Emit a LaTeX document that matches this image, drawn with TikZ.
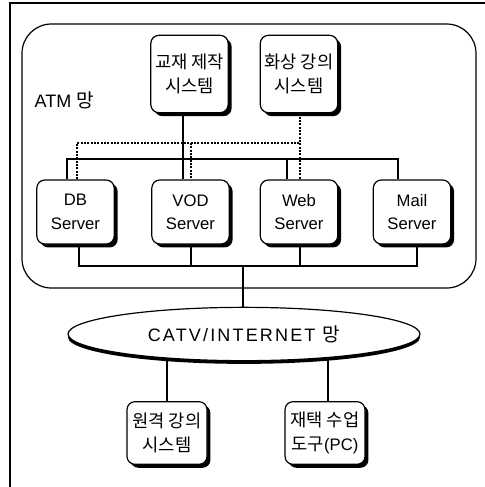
\documentclass[tikz,border=0pt]{standalone}
\usepackage{fontspec}
\setmainfont{Liberation Sans}
\newfontfamily\kr[Scale=1.06]{Noto Sans CJK KR}
\usetikzlibrary{shapes.geometric,shadows,backgrounds}
\begin{document}
\begin{tikzpicture}[x=0.75pt,y=-0.75pt,
  shadowed/.style={drop shadow={shadow xshift=2.6pt,shadow yshift=-2.6pt,opacity=1,fill=black}},
  box/.style={draw,line width=0.9pt,fill=white,rounded corners=6pt,align=center,
    inner sep=1pt,font=\fontsize{12.5pt}{17.5pt}\selectfont,shadowed},
  topbox/.style={box,minimum width=58pt,minimum height=58pt},
  srvbox/.style={box,minimum width=58pt,minimum height=48pt},
  botbox/.style={box,minimum width=60pt,minimum height=47pt},
  link/.style={line width=0.8pt},
  dot/.style={line width=0.8pt,dash pattern=on 1.5pt off 1pt},
  frame/.style={line width=1.1pt}]
\useasboundingbox (0,0) rectangle (485,487);
% outer frame (left and top edges)
\coordinate (fa) at (10,487);
\coordinate (fb) at (10,3);
\coordinate (fc) at (485,3);
\draw[frame] (fa) -- (fb) -- (fc);
% ATM network area
\draw[line width=0.9pt,rounded corners=22pt] (22,24) rectangle (476,288);
\node[anchor=west,font=\fontsize{13.5pt}{15pt}\selectfont] (atm) at (30,100) {ATM {\kr 망}};
% top systems
\node[topbox] (kyo) at (189.5,74) {{\kr 교재 제작}\\{\kr 시스템}};
\node[topbox] (hwa) at (299,74) {{\kr 화상 강의}\\{\kr 시스템}};
% servers
\node[srvbox] (db) at (75.5,212) {DB\\Server};
\node[srvbox] (vod) at (190.5,212) {VOD\\Server};
\node[srvbox] (web) at (299,212) {Web\\Server};
\node[srvbox] (mail) at (412,212) {Mail\\Server};
% network ellipse
\node[draw,ellipse,line width=0.9pt,fill=white,minimum width=264pt,minimum height=40pt,
  font=\fontsize{13.5pt}{15pt}\selectfont\addfontfeature{LetterSpace=12},
  drop shadow={shadow xshift=0pt,shadow yshift=-2.4pt,opacity=1,fill=black}] (net) at (244,334) {CATV/INTERNET {\kr 망}};
% client systems
\node[botbox] (won) at (167,433) {{\kr 원격 강의}\\{\kr 시스템}};
\node[botbox] (jae) at (325,433) {{\kr 재택 수업}\\{\kr 도구}(PC)};
% coordinates of routing
\coordinate (s1) at (183,159);
\coordinate (b1) at (67,159);
\coordinate (b2) at (398,159);
\coordinate (b3) at (287,159);
\coordinate (d1) at (77,143);
\coordinate (d2) at (300,143);
\coordinate (d3) at (191,143);
\coordinate (c1) at (79,266);
\coordinate (c2) at (191,266);
\coordinate (c3) at (300,266);
\coordinate (c4) at (417,266);
\coordinate (c0) at (243,266);
\coordinate (e1) at (167,300);
\coordinate (e2) at (328,300);
\begin{scope}[on background layer]
% solid link from authoring system to VOD server
\draw[link] (kyo.south -| s1) -- (vod.north -| s1);
% upper solid bus
\draw[link] (db.north -| b1) -- (b1) -- (b2) -- (mail.north -| b2);
\draw[link] (b3) -- (web.north -| b3);
% dotted bus
\draw[dot] (db.north -| d1) -- (d1) -- (d2);
\draw[dot] (hwa.south -| d2) -- (web.north -| d2);
\draw[dot] (d3) -- (vod.north -| d3);
% lower bus
\draw[link] (db.south -| c1) -- (c1) -- (c4) -- (mail.south -| c4);
\draw[link] (vod.south -| c2) -- (c2);
\draw[link] (web.south -| c3) -- (c3);
\draw[link] (c0) -- (net.north -| c0);
% ellipse to clients
\draw[link] (won.north -| e1) -- (e1 |- net.center);
\draw[link] (jae.north -| e2) -- (e2 |- net.center);
\end{scope}
\end{tikzpicture}
\end{document}
